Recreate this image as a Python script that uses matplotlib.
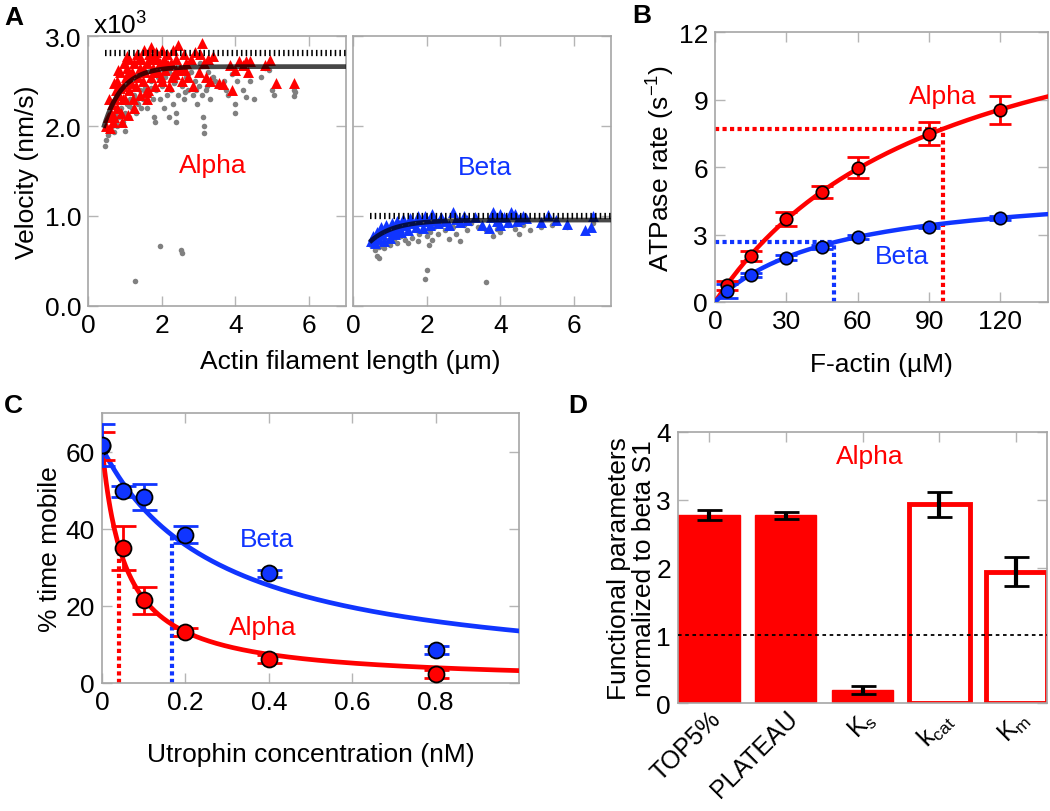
import numpy as np
import matplotlib.pyplot as plt

plt.rcParams['font.family'] = ['Liberation Sans', 'DejaVu Sans']
plt.rcParams['mathtext.fontset'] = 'custom'
plt.rcParams['mathtext.rm'] = 'Liberation Sans'
plt.rcParams['mathtext.it'] = 'Liberation Sans'

RED = '#ff0000'
BLUE = '#1035ff'
GRAY = '#808080'
FS = 19

# ---- panel A: gliding velocity vs filament length (x10^3 nm/s) ----
alpha_tri_x = [0.5, 0.55, 0.6, 0.62, 0.65, 0.7, 0.72, 0.75, 0.78, 0.8, 0.85, 0.88, 0.9, 0.95, 0.98,
               1.0, 1.02, 1.05, 1.1, 1.12, 1.15, 1.2, 1.22, 1.25, 1.3, 1.32, 1.35, 1.4, 1.42, 1.45,
               1.5, 1.52, 1.55, 1.6, 1.62, 1.65, 1.7, 1.72, 1.75, 1.8, 1.82, 1.85, 1.9, 1.95, 2.0,
               2.02, 2.05, 2.1, 2.15, 2.2, 2.25, 2.3, 2.35, 2.4, 2.45, 2.5, 2.55, 2.6, 2.65, 2.7,
               2.8, 2.85, 2.9, 3.0, 3.05, 3.1, 3.15, 3.2, 3.25, 3.3, 3.4, 3.55, 3.65, 3.85, 3.9,
               4.0, 4.1, 4.2, 4.3, 4.35, 4.4, 4.8, 4.95, 5.1, 5.6, 1.25, 0.92, 1.08, 1.6, 0.68,
               0.58, 0.82, 1.18, 1.38, 1.58, 1.78, 1.98, 2.18, 2.38, 0.7, 0.95, 1.12, 1.48, 1.88,
               2.28, 2.62, 0.88, 1.05, 1.68, 2.08]
alpha_tri_y = [2.0, 2.1, 1.98, 2.15, 2.25, 2.1, 2.3, 2.4, 2.2, 2.5, 2.35, 2.6, 2.15, 2.45, 2.7,
               2.3, 2.55, 2.65, 2.4, 2.75, 2.5, 2.6, 2.3, 2.7, 2.45, 2.8, 2.55, 2.65, 2.35, 2.75,
               2.5, 2.85, 2.6, 2.7, 2.4, 2.8, 2.55, 2.88, 2.65, 2.75, 2.45, 2.82, 2.6, 2.7, 2.85,
               2.5, 2.75, 2.62, 2.8, 2.45, 2.7, 2.85, 2.58, 2.75, 2.9, 2.65, 2.5, 2.8, 2.7, 2.55,
               2.75, 2.45, 2.82, 2.6, 2.8, 2.92, 2.7, 2.55, 2.75, 2.5, 2.78, 2.48, 2.47, 2.68, 2.4,
               2.62, 2.72, 2.68, 2.72, 2.6, 2.72, 2.68, 2.73, 2.48, 2.48, 2.2, 2.05, 2.12, 2.3, 2.05,
               2.3, 2.62, 2.48, 2.75, 2.38, 2.6, 2.55, 2.68, 2.62, 2.48, 2.3, 2.58, 2.62, 2.75,
               2.55, 2.62, 2.42, 2.78, 2.75, 2.68]
alpha_dot_x = [0.45, 0.55, 0.6, 0.65, 0.7, 0.75, 0.8, 0.85, 0.9, 0.95, 1.0, 1.05, 1.1, 1.15, 1.2,
               1.25, 1.3, 1.35, 1.4, 1.45, 1.5, 1.55, 1.6, 1.65, 1.7, 1.75, 1.8, 1.82, 1.85, 1.9,
               1.95, 2.0, 2.05, 2.1, 2.15, 2.2, 2.25, 2.3, 2.35, 2.4, 2.45, 2.5, 2.55, 2.6, 2.65,
               2.7, 2.8, 2.85, 2.9, 2.95, 3.0, 3.05, 3.1, 3.12, 3.15, 3.15, 3.2, 3.25, 3.3, 3.4,
               3.5, 3.6, 3.7, 3.8, 3.9, 4.0, 4.0, 4.05, 4.2, 4.3, 4.4, 4.5, 4.7, 4.8, 4.9,
               5.0, 5.05, 5.6, 5.6, 5.62, 1.95, 2.52, 2.56, 1.28, 0.5, 2.4, 2.2, 1.0,
               0.72, 0.92, 1.12, 1.32, 1.52, 1.72, 2.32, 2.62, 2.92, 3.22, 3.45, 3.75]
alpha_dot_y = [1.78, 1.9, 1.95, 2.0, 1.93, 2.05, 2.0, 2.1, 2.2, 2.05, 2.15, 2.25, 2.1, 2.3, 2.2,
               2.35, 2.15, 2.25, 2.4, 2.2, 2.3, 2.45, 2.2, 2.35, 2.5, 2.3, 2.1, 2.05, 2.4, 2.55,
               2.3, 2.45, 2.2, 2.55, 2.35, 2.6, 2.4, 2.25, 2.5, 2.15, 2.35, 2.6, 2.45, 2.3, 2.55,
               2.4, 2.6, 2.35, 2.5, 2.25, 2.45, 2.7, 2.35, 2.1, 2.0, 1.92, 2.4, 2.6, 2.3, 2.55,
               2.45, 2.45, 2.5, 2.35, 2.58, 2.25, 2.15, 2.5, 2.4, 2.32, 2.5, 2.3, 2.55, 2.65, 2.62,
               2.4, 2.35, 2.4, 2.33, 2.38, 0.67, 0.62, 0.59, 0.28, 1.85, 2.05, 2.1, 1.95,
               2.12, 2.28, 2.22, 2.3, 2.4, 2.42, 2.48, 2.38, 2.4, 2.45, 2.5, 2.4]

beta_tri_x = [0.5, 0.55, 0.6, 0.65, 0.7, 0.75, 0.8, 0.85, 0.9, 0.95, 1.0, 1.05, 1.1, 1.15, 1.2,
              1.25, 1.3, 1.35, 1.4, 1.5, 1.55, 1.6, 1.7, 1.75, 1.8, 1.9, 1.95, 2.0, 2.1, 2.15,
              2.2, 2.3, 2.4, 2.5, 2.6, 2.7, 2.8, 2.9, 3.0, 3.1, 3.3, 3.5, 3.75, 3.8, 3.9,
              4.0, 4.1, 4.2, 4.3, 4.4, 4.5, 4.6, 4.7, 5.1, 5.3, 5.5, 5.8, 6.3, 6.45, 6.5,
              4.45, 4.0, 3.7]
beta_tri_y = [0.72, 0.78, 0.7, 0.82, 0.75, 0.88, 0.8, 0.72, 0.9, 0.83, 0.76, 0.92, 0.86, 0.8, 0.95,
              0.88, 0.82, 0.97, 0.9, 0.85, 0.98, 0.92, 0.88, 1.0, 0.94, 0.87, 1.0, 0.95, 0.9, 1.02,
              0.96, 0.92, 0.99, 0.94, 0.9, 1.04, 0.97, 0.93, 1.0, 0.96, 0.99, 0.9, 0.99, 1.04, 0.95,
              1.02, 0.99, 0.93, 1.05, 1.02, 0.97, 1.0, 0.98, 0.93, 1.01, 0.96, 0.91, 0.84, 0.88, 1.0,
              0.95, 0.9, 0.87]
beta_dot_x = [0.5, 0.55, 0.6, 0.65, 0.7, 0.8, 0.85, 0.9, 1.0, 1.1, 1.2, 1.3, 1.4, 1.5, 1.6,
              1.7, 1.75, 1.8, 1.9, 2.0, 2.05, 2.1, 2.15, 2.2, 2.3, 2.4, 2.5, 2.6, 2.7, 2.8,
              2.9, 3.0, 3.1, 3.2, 3.4, 3.6, 3.8, 3.9, 4.0, 4.2, 4.4, 4.5, 4.6, 4.8, 5.1,
              5.4, 5.8, 6.5, 1.95, 2.0, 3.6, 0.7, 1.5]
beta_dot_y = [0.68, 0.72, 0.62, 0.56, 0.66, 0.7, 0.64, 0.73, 0.68, 0.75, 0.7, 0.78, 0.73, 0.82, 0.76,
              0.84, 0.72, 0.8, 0.86, 0.78, 0.68, 0.82, 0.73, 0.88, 0.8, 0.9, 0.84, 0.74, 0.88, 0.8,
              0.72, 0.9, 0.85, 0.92, 0.88, 0.85, 0.78, 0.86, 0.82, 0.9, 0.86, 0.8, 0.9, 0.85, 0.88,
              0.9, 0.88, 0.92, 0.3, 0.4, 0.27, 0.53, 0.7]

# exponential-rise fits: start length, start velocity, plateau, length constant; top 5%
alpha_fit = (0.42, 1.98, 2.66, 0.5)
beta_fit = (0.45, 0.71, 0.955, 0.65)
alpha_top5 = 2.81
beta_top5 = 1.0

# ---- panel B: actin-activated ATPase ----
actin_conc = [5, 15, 30, 45, 60, 90, 120]
atp_alpha = [0.74, 2.04, 3.7, 4.89, 5.97, 7.48, 8.52]
atp_alpha_err = [0.2, 0.22, 0.3, 0.28, 0.48, 0.52, 0.63]
atp_beta = [0.49, 1.19, 1.97, 2.44, 2.89, 3.33, 3.73]
atp_beta_err = [0.3, 0.1, 0.1, 0.08, 0.08, 0.06, 0.08]
alpha_vmax, alpha_km = 15.4, 96
beta_vmax, beta_km = 5.3, 50

# ---- panel C: % time mobile vs utrophin ----
utr_conc = [0, 0.05, 0.1, 0.2, 0.4, 0.8]
mob_alpha = [61.5, 35.0, 21.5, 13.3, 6.2, 2.3]
mob_alpha_err = [3.6, 5.7, 3.5, 1.0, 1.0, 1.0]
mob_beta = [61.7, 49.7, 48.2, 38.5, 28.4, 8.6]
mob_beta_err = [5.5, 1.5, 3.4, 2.2, 1.0, 1.0]
alpha_amp, alpha_k50 = 61.5, 0.055
beta_amp, beta_k50 = 61.0, 0.284
alpha_mark, beta_mark = 0.04, 0.168

# ---- panel D: normalized parameters ----
params = ['TOP5%', 'PLATEAU', r'K$_\mathregular{s}$', r'k$_\mathregular{cat}$', r'K$_\mathregular{m}$']
param_vals = [2.77, 2.77, 0.19, 2.93, 1.94]
param_err = [0.075, 0.05, 0.06, 0.18, 0.21]
param_filled = [True, True, True, False, False]


def style(ax):
    for s in ax.spines.values():
        s.set_color('#a6a6a6')
        s.set_linewidth(1.2)
    ax.tick_params(direction='in', length=7, width=1, color='#b5b5b5',
                   top=True, right=True, labelsize=FS, pad=5)


fig = plt.figure(figsize=(10.5, 8.12), dpi=100)
W, H = 1050.0, 812.0


def axes_px(x0, y0, x1, y1):
    return fig.add_axes([x0 / W, 1 - y1 / H, (x1 - x0) / W, (y1 - y0) / H])


# panel A
axA1 = axes_px(88, 37, 346, 307)
axA2 = axes_px(353, 37, 611, 307)
for ax, tx, ty, dx, dy, col, fit, top5 in [
        (axA1, alpha_tri_x, alpha_tri_y, alpha_dot_x, alpha_dot_y, RED, alpha_fit, alpha_top5),
        (axA2, beta_tri_x, beta_tri_y, beta_dot_x, beta_dot_y, BLUE, beta_fit, beta_top5)]:
    style(ax)
    ax.scatter(dx, dy, s=16, color=GRAY, zorder=2, linewidths=0)
    ax.scatter(tx, ty, s=62, marker='^', color=col, zorder=3, linewidths=0)
    x0, y0, pl, L = fit
    xf = np.linspace(x0, 7, 200)
    ax.plot(xf, pl - (pl - y0) * np.exp(-(xf - x0) / L), color='black', alpha=0.72,
            lw=3.4, zorder=4, solid_capstyle='butt')
    ax.plot([0.45, 7], [top5, top5], color='black', lw=4.5, zorder=5,
            linestyle=(0, (0.25, 0.5)), dash_capstyle='butt')
    ax.set_xlim(0, 7)
    ax.set_ylim(0, 3)
    ax.set_xticks([0, 2, 4, 6])
    ax.set_yticks([0, 1, 2, 3])
axA1.set_yticklabels(['0.0', '1.0', '2.0', '3.0'])
axA2.set_yticklabels([])
axA1.text(3.38, 1.57, 'Alpha', color=RED, fontsize=FS, ha='center', va='center')
axA2.text(3.57, 1.55, 'Beta', color=BLUE, fontsize=FS, ha='center', va='center')
axA1.set_ylabel('Velocity (nm/s)', fontsize=FS, labelpad=4)
fig.text(93 / W, 1 - 35 / H, r'x10$^\mathregular{3}$', fontsize=FS)
fig.text(350 / W, 1 - 362 / H, 'Actin filament length (µm)', fontsize=FS, ha='center', va='center')

# panel B
axB = axes_px(715, 33, 1048, 303)
style(axB)
xc = np.linspace(0, 140, 200)
dot = (0, (1, 0.8))
axB.plot([0, alpha_km], [alpha_vmax / 2] * 2, color=RED, lw=3, linestyle=dot, zorder=2)
axB.plot([alpha_km, alpha_km], [0, alpha_vmax / 2], color=RED, lw=3, linestyle=dot, zorder=2)
axB.plot([0, beta_km], [beta_vmax / 2] * 2, color=BLUE, lw=3, linestyle=dot, zorder=2)
axB.plot([beta_km, beta_km], [0, beta_vmax / 2], color=BLUE, lw=3, linestyle=dot, zorder=2)
axB.plot(xc, alpha_vmax * xc / (alpha_km + xc), color=RED, lw=3.2, zorder=3)
axB.plot(xc, beta_vmax * xc / (beta_km + xc), color=BLUE, lw=3.2, zorder=3)
axB.errorbar(actin_conc, atp_alpha, yerr=atp_alpha_err, fmt='none', ecolor=RED,
             elinewidth=2, capsize=8, capthick=2, zorder=4)
axB.errorbar(actin_conc, atp_beta, yerr=atp_beta_err, fmt='none', ecolor=BLUE,
             elinewidth=2, capsize=8, capthick=2, zorder=4)
axB.plot(actin_conc, atp_alpha, 'o', ms=9, mfc=RED, mec='black', mew=1.2, zorder=5)
axB.plot(actin_conc, atp_beta, 'o', ms=9, mfc=BLUE, mec='black', mew=1.2, zorder=5)
axB.set_xlim(0, 140)
axB.set_ylim(0, 12)
axB.set_xticks([0, 30, 60, 90, 120])
axB.set_yticks([0, 3, 6, 9, 12])
axB.text(95.6, 9.16, 'Alpha', color=RED, fontsize=FS, ha='center', va='center')
axB.text(78.7, 2.05, 'Beta', color=BLUE, fontsize=FS, ha='center', va='center')
axB.set_ylabel(r'ATPase rate (s$^\mathregular{-1}$)', fontsize=FS, labelpad=1)
axB.set_xlabel('F-actin (µM)', fontsize=FS, labelpad=14)

# panel C
axC = axes_px(102, 414, 519, 684)
style(axC)
xu = np.linspace(0, 1.0, 300)
axC.plot([alpha_mark] * 2, [0, alpha_amp / (1 + alpha_mark / alpha_k50)], color=RED, lw=3,
         linestyle=dot, zorder=2)
axC.plot([beta_mark] * 2, [0, beta_amp / (1 + beta_mark / beta_k50)], color=BLUE, lw=3,
         linestyle=dot, zorder=2)
axC.plot(xu, alpha_amp / (1 + xu / alpha_k50), color=RED, lw=3.4, zorder=3)
axC.plot(xu, beta_amp / (1 + xu / beta_k50), color=BLUE, lw=3.4, zorder=3)
axC.errorbar(utr_conc, mob_alpha, yerr=mob_alpha_err, fmt='none', ecolor=RED,
             elinewidth=2, capsize=9, capthick=2, zorder=4)
axC.plot(utr_conc, mob_alpha, 'o', ms=11.5, mfc=RED, mec='black', mew=1.3, zorder=5)
axC.errorbar(utr_conc, mob_beta, yerr=mob_beta_err, fmt='none', ecolor=BLUE,
             elinewidth=2, capsize=9, capthick=2, zorder=6)
axC.plot(utr_conc, mob_beta, 'o', ms=11.5, mfc=BLUE, mec='black', mew=1.3, zorder=7)
axC.set_xlim(0, 1.0)
axC.set_ylim(0, 70)
axC.set_xticks([0, 0.2, 0.4, 0.6, 0.8])
axC.set_xticklabels(['0', '0.2', '0.4', '0.6', '0.8'])
axC.set_yticks([0, 20, 40, 60])
axC.text(0.396, 37.3, 'Beta', color=BLUE, fontsize=FS, ha='center', va='center')
axC.text(0.386, 14.5, 'Alpha', color=RED, fontsize=FS, ha='center', va='center')
axC.set_ylabel('% time mobile', fontsize=FS, labelpad=3)
axC.set_xlabel('Utrophin concentration (nM)', fontsize=FS, labelpad=20)

# panel D
axD = axes_px(678, 433, 1047, 704)
style(axD)
pos = np.arange(1, len(params) + 1)
for p, v, filled in zip(pos, param_vals, param_filled):
    if filled:
        axD.bar(p, v, width=0.8, color=RED, edgecolor=RED, zorder=2)
    else:
        axD.bar(p, v, width=0.8, color='white', edgecolor=RED, linewidth=3.5, zorder=2)
axD.errorbar(pos, param_vals, yerr=param_err, fmt='none', ecolor='black',
             elinewidth=3, capsize=9, capthick=2, zorder=4)
axD.axhline(1, color='black', lw=1.3, linestyle=(0, (2, 2)), zorder=3)
axD.set_xlim(0.6, 5.4)
axD.set_ylim(0, 4)
axD.set_yticks([0, 1, 2, 3, 4])
axD.set_xticks(pos)
axD.set_xticklabels(params, rotation=45, ha='right', rotation_mode='anchor', fontsize=18)
axD.tick_params(axis='x', bottom=False, pad=2)
axD.text(3.1, 3.65, 'Alpha', color=RED, fontsize=FS, ha='center', va='center')
axD.set_ylabel('Functional parameters\nnormalized to beta S1', fontsize=FS, labelpad=0,
               linespacing=1.05)

# panel letters
for lab, x, y in [('A', 4, 6), ('B', 632, 4), ('C', 4, 394), ('D', 568, 394)]:
    fig.text(x / W, 1 - y / H, lab, fontsize=19, fontweight='bold', va='top')

fig.savefig('out.png', dpi=100)
